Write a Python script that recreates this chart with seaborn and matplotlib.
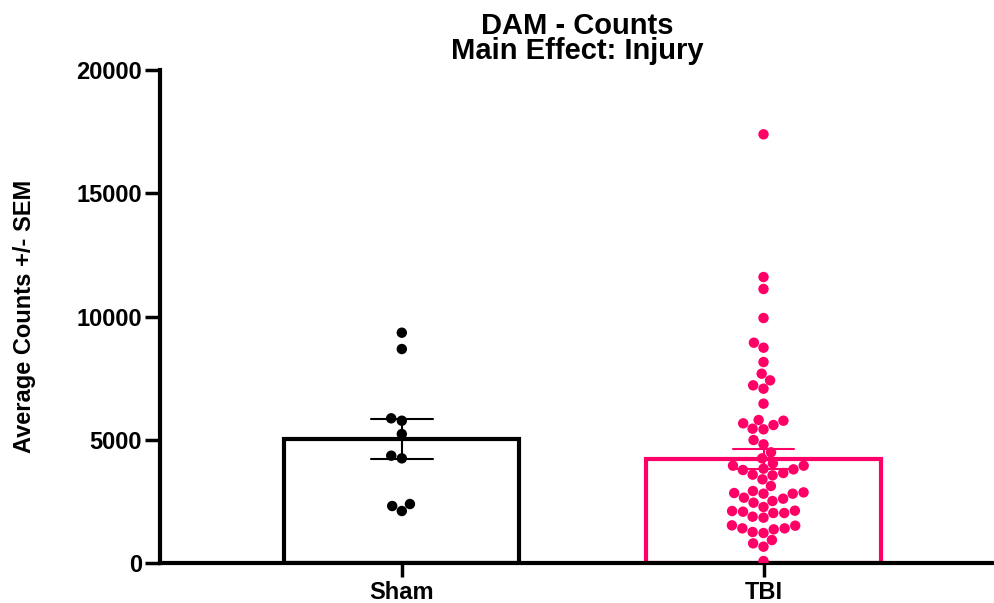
import numpy as np
import pandas as pd
import seaborn as sns
import matplotlib.pyplot as plt

# ---- data ----
groups = ["Sham", "TBI"]
group_colors = ["#000000", "#FF0066"]

sham_counts = [9343, 8681, 5870, 5773, 5233, 4354, 4246, 2393, 2312, 2110]

tbi_counts = [17391, 11602, 11116, 9939,
              8937, 8735, 8154, 7680, 7410, 7208, 7072, 6464,
              5773, 5666, 5801, 5598, 5423, 5449, 4990, 4815, 4490, 4246,
              4043, 3949, 3800, 3949, 3827, 3773, 3651, 3556, 3584, 3394,
              3124, 2812, 2812, 2840, 2866, 2921, 2650, 2610, 2447, 2515,
              2272, 2123, 2110, 2028, 2028, 2082, 1839, 1880, 1528, 1515,
              1406, 1406, 1366, 1217, 1258, 933, 798, 663, 81]

y_ticks = [0, 5000, 10000, 15000, 20000]
title_text = "DAM - Counts\nMain Effect: Injury"
y_label = "Average Counts +/- SEM"

df = pd.DataFrame({
    "group": ["Sham"] * len(sham_counts) + ["TBI"] * len(tbi_counts),
    "counts": sham_counts + tbi_counts,
})

sns.set_theme(style="ticks")
plt.rcParams["font.family"] = ["Liberation Sans", "DejaVu Sans"]
plt.rcParams["font.weight"] = "bold"
plt.rcParams["text.color"] = "black"
plt.rcParams["axes.labelcolor"] = "black"

fig = plt.figure(figsize=(9.95, 6.03), dpi=100)
ax = fig.add_axes([0.161, 0.0663, 0.839, 0.8176])

for g, c in zip(groups, group_colors):
    sns.barplot(data=df[df["group"] == g], x="group", y="counts", order=groups,
                color=c, fill=False, linewidth=3, width=0.65,
                errorbar="se", capsize=0.17,
                err_kws={"color": c, "linewidth": 1.5}, ax=ax)

sns.swarmplot(data=df, x="group", y="counts", order=groups, hue="group",
              hue_order=groups, palette=group_colors, size=7.5,
              legend=False, zorder=3, ax=ax)

ax.set_ylim(0, 20000)
ax.set_yticks(y_ticks)
ax.set_yticklabels([str(t) for t in y_ticks])
ax.set_xlim(-0.668, 1.64)

for side in ["top", "right"]:
    ax.spines[side].set_visible(False)
for side in ["left", "bottom"]:
    ax.spines[side].set_linewidth(3)
    ax.spines[side].set_color("black")

ax.tick_params(axis="y", length=11, width=2.5, pad=2, labelsize=17, colors="black")
ax.tick_params(axis="x", length=10, width=2.5, pad=3, labelsize=17, colors="black")
for lab in ax.get_xticklabels() + ax.get_yticklabels():
    lab.set_fontweight("bold")

ax.set_xlabel("")
ax.set_ylabel(y_label, fontsize=17, fontweight="bold", color="black", labelpad=29)
ax.set_title(title_text, fontsize=21, fontweight="bold", color="black",
             linespacing=0.88, pad=8)

fig.savefig("out.png", dpi=100)
